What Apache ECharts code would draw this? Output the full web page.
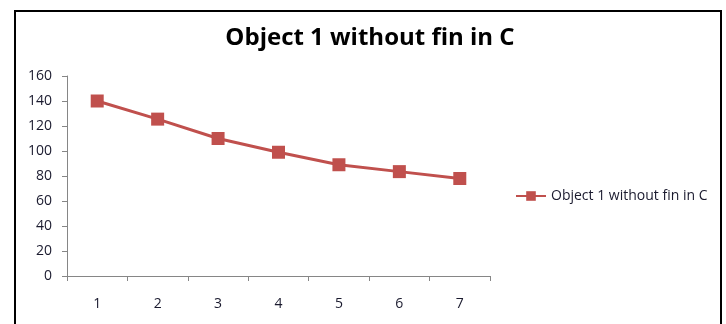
<!DOCTYPE html>
<html>
<head>
<meta charset="utf-8">
<script src="https://cdn.jsdelivr.net/npm/echarts@6/dist/echarts.min.js"></script>
<style>
  html, body { margin: 0; padding: 0; background: #fff; }
  #main { width: 726px; height: 324px; }
</style>
</head>
<body>
<div id="main"></div>
<script>
const categories = ['1', '2', '3', '4', '5', '6', '7'];
const seriesName = 'Object 1 without fin in C';
const values = [140, 125.5, 110, 99, 89, 83.5, 78];

const chart = echarts.init(document.getElementById('main'), null, { renderer: 'canvas' });
const textColor = '#1a1a2e';
const axisGray = '#868686';

chart.setOption({
  animation: false,
  color: ['#C0504D'],
  graphic: [{
    type: 'rect',
    shape: { x: 15, y: 11, width: 706, height: 330 },
    style: { fill: 'none', stroke: '#000', lineWidth: 2 }
  }],
  title: {
    text: seriesName,
    left: 370,
    textAlign: 'center',
    top: 26,
    padding: 0,
    textStyle: { fontFamily: 'Open Sans', fontWeight: 'bold', fontSize: 24, color: '#000' }
  },
  legend: {
    data: [seriesName],
    left: 515,
    top: 189,
    padding: 0,
    itemWidth: 30,
    itemHeight: 12,
    itemGap: 0,
    textStyle: { fontFamily: 'Open Sans', fontSize: 14, color: textColor }
  },
  grid: { left: 67, right: 236, top: 76, bottom: 48 },
  xAxis: {
    type: 'category',
    data: categories,
    boundaryGap: true,
    axisLine: { lineStyle: { color: axisGray, width: 1 } },
    axisTick: { show: true, length: 5, lineStyle: { color: axisGray } },
    axisLabel: { fontFamily: 'Open Sans', fontSize: 14, color: textColor, margin: 21 }
  },
  yAxis: {
    type: 'value',
    min: 0,
    max: 160,
    interval: 20,
    splitLine: { show: false },
    axisLine: { show: true, lineStyle: { color: axisGray, width: 1 } },
    axisTick: { show: true, length: 5, lineStyle: { color: axisGray } },
    axisLabel: { fontFamily: 'Open Sans', fontSize: 14, color: textColor, margin: 15 }
  },
  series: [{
    name: seriesName,
    type: 'line',
    data: values,
    symbol: 'rect',
    symbolSize: 13,
    lineStyle: { width: 3 },
    itemStyle: { color: '#C0504D' }
  }]
});
</script>
</body>
</html>
